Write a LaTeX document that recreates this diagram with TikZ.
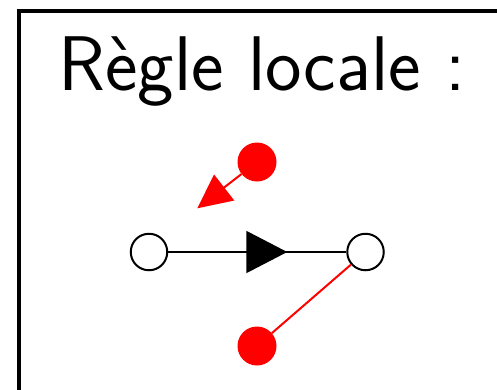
\documentclass[tikz,border=0pt]{standalone}
\usetikzlibrary{arrows.meta,decorations.markings}
\begin{document}
\begin{tikzpicture}[x=1pt,y=-1pt,
  vertex/.style={circle,draw=black,fill=white,line width=2pt,minimum size=36.5pt,inner sep=0pt},
  reddot/.style={circle,fill=red,minimum size=39pt,inner sep=0pt},
  edge/.style={line width=2pt,black},
  redline/.style={line width=2pt,red}]
  \useasboundingbox (0,0) rectangle (497,389);
  \clip (0,0) rectangle (497,389);
  % frame around the rule
  \draw[line width=3.3pt] (19,420) -- (19,11) -- (530,11);
  % title
  \node[anchor=base,inner sep=0pt,font=\sffamily\fontsize{77.5}{86}\selectfont] (title) at (262,90) {Règle locale :};
  % the two vertices and the red tokens
  \node[vertex] (u) at (149,252) {};
  \node[vertex] (v) at (365.5,252) {};
  \node[reddot] (top) at (257,162) {};
  \node[reddot] (bot) at (257,346) {};
  \coordinate (tip) at (197.3,208.3);
  % oriented edge with its arrow in the middle
  \draw[edge,postaction={decorate},decoration={markings,
      mark=at position 119pt with {\arrow{Triangle[length=41pt,width=42pt]}}}] (u) -- (v);
  % red arrow and red link
  \draw[redline,-{Triangle[length=34pt,width=32.5pt]}] (top) -- (tip);
  \draw[redline] (v) -- (bot);
\end{tikzpicture}
\end{document}
